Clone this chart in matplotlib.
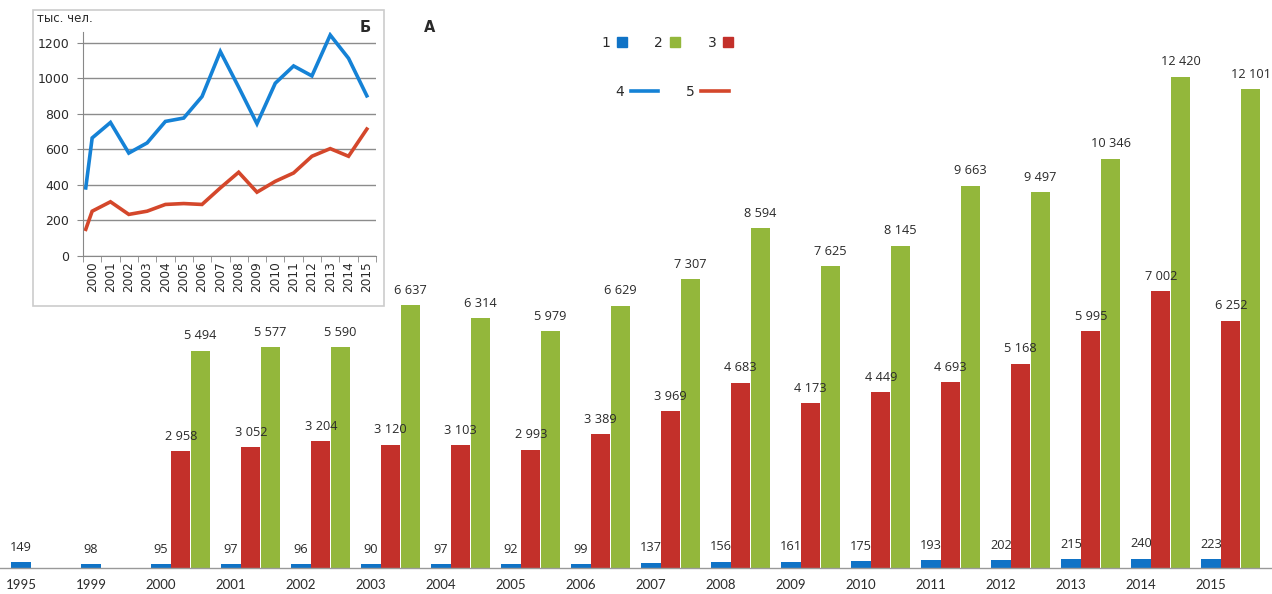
import numpy as np
import matplotlib.pyplot as plt
from matplotlib.lines import Line2D
from matplotlib.patches import Rectangle

# main chart: three series by year
years = ['1995', '1999', '2000', '2001', '2002', '2003', '2004', '2005', '2006',
         '2007', '2008', '2009', '2010', '2011', '2012', '2013', '2014', '2015']
s1 = [149, 98, 95, 97, 96, 90, 97, 92, 99, 137, 156, 161, 175, 193, 202, 215, 240, 223]
s3 = [None, None, 2958, 3052, 3204, 3120, 3103, 2993, 3389, 3969, 4683, 4173,
      4449, 4693, 5168, 5995, 7002, 6252]
s2 = [None, None, 5494, 5577, 5590, 6637, 6314, 5979, 6629, 7307, 8594, 7625,
      8145, 9663, 9497, 10346, 12420, 12101]

# inset: thousands of people, first value is the start of the line
inset_years = [str(y) for y in range(2000, 2016)]
s4 = [383, 664, 751, 579, 636, 757, 776, 897, 1150, 950, 744, 972, 1069, 1013, 1243, 1112, 901]
s5 = [150, 252, 305, 234, 252, 290, 295, 290, 383, 471, 359, 420, 467, 561, 604, 561, 714]

c_blue = '#1073C6'
c_red = '#C3302A'
c_green = '#93B73B'
c_line4 = '#1582D6'
c_line5 = '#D4472B'
c_text = '#2A2A2A'

W, H = 1272, 594
fig = plt.figure(figsize=(W / 100, H / 100), dpi=100)

ax = fig.add_axes([0, (H - 568) / H, 1, 568 / H])
ax.set_zorder(0)
x = np.arange(len(years))
bw = 0.275
off = 0.283


def fmt(v):
    return f'{v:,}'.replace(',', ' ')


def bars(pos, vals, color):
    for p, v in zip(pos, vals):
        if v is None:
            continue
        ax.bar(p, v, width=bw, color=color, linewidth=0)
        ax.annotate(fmt(v), (p, v), xytext=(0, 6), textcoords='offset points',
                    ha='center', va='bottom', fontsize=9.2, color=c_text,
                    family='Open Sans')


bars(x, s1, c_blue)
bars(x + off, s3, c_red)
bars(x + 2 * off, s2, c_green)

ax.set_xlim(-0.3, (W - 21) / 70)
ax.set_ylim(0, 568 / 0.03956)
ax.set_xticks(x)
ax.set_xticklabels(years, fontsize=9.5, family='Lato', color=c_text)
ax.tick_params(axis='x', length=0, pad=8)
ax.set_yticks([])
for s in ['top', 'right', 'left']:
    ax.spines[s].set_visible(False)
ax.spines['bottom'].set_color('#999999')
ax.spines['bottom'].set_linewidth(1)

fig.text(430 / W, 1 - 28 / H, 'А', fontsize=10.5, fontweight='bold',
         ha='center', va='center', color=c_text)

# legends
h1 = [Line2D([], [], ls='none', marker='s', ms=6.5, color=c) for c in (c_blue, c_green, c_red)]
fig.legend(h1, ['1', '2', '3'], ncol=3, loc='center', bbox_to_anchor=(667 / W, 1 - 43 / H),
           frameon=False, markerfirst=False, handlelength=0.7, handletextpad=0.5,
           columnspacing=2.0, fontsize=10, labelcolor=c_text)
h2 = [Line2D([], [], lw=2.6, color=c) for c in (c_line4, c_line5)]
fig.legend(h2, ['4', '5'], ncol=2, loc='center', bbox_to_anchor=(672 / W, 1 - 92 / H),
           frameon=False, markerfirst=False, handlelength=2.0, handletextpad=0.5,
           columnspacing=1.95, fontsize=10, labelcolor=c_text)

# inset frame and axes
frame = Rectangle((33 / W, 1 - 306 / H), (384 - 33) / W, (306 - 10) / H,
                  transform=fig.transFigure, facecolor='white', edgecolor='#CCCCCC',
                  linewidth=1.2, zorder=1)
fig.add_artist(frame)

ia = fig.add_axes([83 / W, (H - 256) / H, 293 / W, (256 - 32) / H])
ia.set_zorder(2)
ia.set_facecolor('none')
ix = np.r_[-0.35, np.arange(len(inset_years))]
ia.plot(ix, s4, color=c_line4, lw=2.6, solid_joinstyle='miter')
ia.plot(ix, s5, color=c_line5, lw=2.6, solid_joinstyle='miter')
ia.set_xlim(-0.5, len(inset_years) - 0.5)
ia.set_ylim(0, 1260)
ia.set_yticks(range(0, 1201, 200))
ia.set_yticklabels([str(v) for v in range(0, 1201, 200)], fontsize=9, color=c_text)
ia.set_xticks(np.arange(len(inset_years)))
ia.set_xticklabels(inset_years, rotation=90, fontsize=8.7, color=c_text)
ia.set_xticks(np.arange(len(inset_years) + 1) - 0.5, minor=True)
ia.tick_params(axis='x', which='major', length=0, pad=4)
ia.tick_params(axis='x', which='minor', length=4, color='#888888', direction='out')
ia.tick_params(axis='y', length=4, color='#888888', direction='out', pad=6)
ia.grid(axis='y', color='#8C8C8C', lw=1)
ia.set_axisbelow(True)
for s in ['top', 'right']:
    ia.spines[s].set_visible(False)
ia.spines['left'].set_color('#888888')
ia.spines['bottom'].set_color('#888888')

fig.text(37 / W, 1 - 18 / H, 'тыс. чел.', fontsize=8.5, ha='left', va='center',
         color=c_text, zorder=3)
fig.text(365 / W, 1 - 28 / H, 'Б', fontsize=10.5, fontweight='bold', ha='center',
         va='center', color=c_text, zorder=3)

fig.savefig('out.png', dpi=100)
